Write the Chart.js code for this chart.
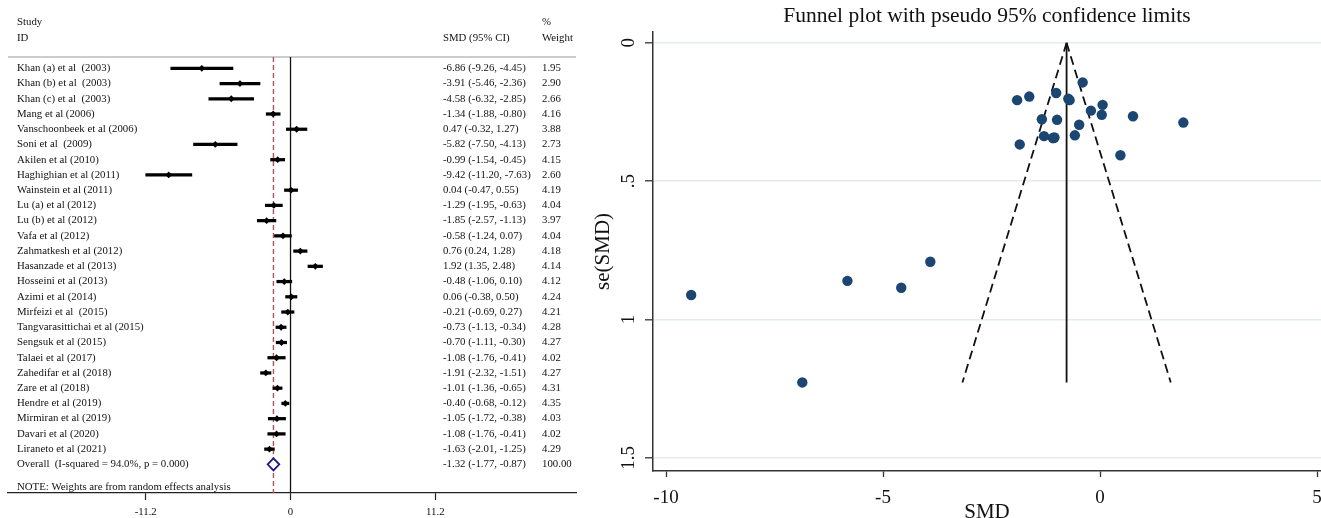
<!DOCTYPE html>
<html><head><meta charset="utf-8">
<script src="https://cdn.jsdelivr.net/npm/chart.js@4/dist/chart.umd.min.js"></script>
<style>
html,body{margin:0;padding:0;background:#fff;overflow:hidden;width:1321px;height:518px;position:relative;}
#forest{position:absolute;left:0;top:0;}
#funnel{position:absolute;left:580px;top:0;}
</style></head><body>
<canvas id="forest" width="580" height="518"></canvas>
<canvas id="funnel" width="761" height="524"></canvas>
<script>
// ---------- data ----------
const studies = [
  'Khan (a) et al  (2003)','Khan (b) et al  (2003)','Khan (c) et al  (2003)','Mang et al (2006)',
  'Vanschoonbeek et al (2006)','Soni et al  (2009)','Akilen et al (2010)','Haghighian et al (2011)',
  'Wainstein et al (2011)','Lu (a) et al (2012)','Lu (b) et al (2012)','Vafa et al (2012)',
  'Zahmatkesh et al (2012)','Hasanzade et al (2013)','Hosseini et al (2013)','Azimi et al (2014)',
  'Mirfeizi et al  (2015)','Tangvarasittichai et al (2015)','Sengsuk et al (2015)','Talaei et al (2017)',
  'Zahedifar et al (2018)','Zare et al (2018)','Hendre et al (2019)','Mirmiran et al (2019)',
  'Davari et al (2020)','Liraneto et al (2021)'
];
const smd = [-6.86,-3.91,-4.58,-1.34,0.47,-5.82,-0.99,-9.42,0.04,-1.29,-1.85,-0.58,0.76,1.92,-0.48,0.06,-0.21,-0.73,-0.70,-1.08,-1.91,-1.01,-0.40,-1.05,-1.08,-1.63];
const ciLower = [-9.26,-5.46,-6.32,-1.88,-0.32,-7.50,-1.54,-11.20,-0.47,-1.95,-2.57,-1.24,0.24,1.35,-1.06,-0.38,-0.69,-1.13,-1.11,-1.76,-2.32,-1.36,-0.68,-1.72,-1.76,-2.01];
const ciUpper = [-4.45,-2.36,-2.85,-0.80,1.27,-4.13,-0.45,-7.63,0.55,-0.63,-1.13,0.07,1.28,2.48,0.10,0.50,0.27,-0.34,-0.30,-0.41,-1.51,-0.65,-0.12,-0.38,-0.41,-1.25];
const weights = [1.95,2.90,2.66,4.16,3.88,2.73,4.15,2.60,4.19,4.04,3.97,4.04,4.18,4.14,4.12,4.24,4.21,4.28,4.27,4.02,4.27,4.31,4.35,4.03,4.02,4.29];
const seSMD = [1.227,0.791,0.885,0.276,0.406,0.860,0.278,0.911,0.260,0.337,0.367,0.334,0.265,0.288,0.296,0.224,0.245,0.202,0.207,0.344,0.207,0.181,0.143,0.342,0.344,0.194];

const overallLabel = 'Overall  (I-squared = 94.0%, p = 0.000)';
const overallEst = [-1.32, -1.77, -0.87];
const overallWeight = '100.00';
const noteText = 'NOTE: Weights are from random effects analysis';

const forestTickValues = [-11.2, 0, 11.2];
const forestTickLabels = ['-11.2', '0', '11.2'];

const funnelTitle = 'Funnel plot with pseudo 95% confidence limits';
const funnelXTickValues = [-10, -5, 0, 5];
const funnelXTickLabels = ['-10', '-5', '0', '5'];
const funnelYTickValues = [0, 0.5, 1, 1.5];
const funnelYTickLabels = ['0', '.5', '1', '1.5'];
const pooledFixed = -0.77;
const funnelSE = [0, 1.227];
const funnelLeftLimit = [-0.77, -3.17];
const funnelRightLimit = [-0.77, 1.63];

// ---------- setup ----------
const SERIF = "'Liberation Serif','Times New Roman',serif";
Chart.defaults.font.family = SERIF;
Chart.defaults.color = '#111';
Chart.defaults.animation = false;

const FS = 10.8;
const fmt = v => v.toFixed(2);

const forestDecor = {
  id: 'forestDecor',
  beforeDatasetsDraw(chart) {
    const {ctx, chartArea, scales: {x}} = chart;
    ctx.save();
    ctx.strokeStyle = '#9a9a9a'; ctx.lineWidth = 1.2;
    ctx.beginPath(); ctx.moveTo(chartArea.left, chartArea.top); ctx.lineTo(chartArea.right, chartArea.top); ctx.stroke();
    const x0 = x.getPixelForValue(0);
    ctx.strokeStyle = '#111'; ctx.lineWidth = 1.3;
    ctx.beginPath(); ctx.moveTo(x0, chartArea.top); ctx.lineTo(x0, chartArea.bottom); ctx.stroke();
    const xo = x.getPixelForValue(overallEst[0]);
    ctx.strokeStyle = '#b4505a'; ctx.lineWidth = 1.4; ctx.setLineDash([5, 3]);
    ctx.beginPath(); ctx.moveTo(xo, chartArea.top); ctx.lineTo(xo, chartArea.bottom); ctx.stroke();
    ctx.restore();
  },
  afterDatasetsDraw(chart) {
    const {ctx, scales: {x, y}} = chart;
    ctx.save();
    ctx.fillStyle = '#111';
    ctx.font = FS + 'px ' + SERIF;
    ctx.textBaseline = 'middle';
    ctx.textAlign = 'left';
    const colName = 17, colEst = 443, colW = 542;
    ctx.fillText('Study', colName, y.getPixelForValue(-3));
    ctx.fillText('ID', colName, y.getPixelForValue(-2));
    ctx.fillText('SMD (95% CI)', colEst, y.getPixelForValue(-2));
    ctx.fillText('%', colW, y.getPixelForValue(-3));
    ctx.fillText('Weight', colW, y.getPixelForValue(-2));
    studies.forEach((s, i) => {
      const py = y.getPixelForValue(i);
      ctx.fillText(s, colName, py);
      ctx.fillText(fmt(smd[i]) + ' (' + fmt(ciLower[i]) + ', ' + fmt(ciUpper[i]) + ')', colEst, py);
      ctx.fillText(fmt(weights[i]), colW, py);
    });
    const oy = y.getPixelForValue(studies.length);
    ctx.fillText(overallLabel, colName, oy);
    ctx.fillText(fmt(overallEst[0]) + ' (' + fmt(overallEst[1]) + ', ' + fmt(overallEst[2]) + ')', colEst, oy);
    ctx.fillText(overallWeight, colW, oy);
    ctx.fillText(noteText, colName, y.getPixelForValue(studies.length + 1.5));
    const xl = x.getPixelForValue(overallEst[1]), xm = x.getPixelForValue(overallEst[0]), xr = x.getPixelForValue(overallEst[2]);
    ctx.beginPath();
    ctx.moveTo(xl, oy); ctx.lineTo(xm, oy - 6); ctx.lineTo(xr, oy); ctx.lineTo(xm, oy + 6); ctx.closePath();
    ctx.fillStyle = '#fff'; ctx.fill();
    ctx.strokeStyle = '#1c1c80'; ctx.lineWidth = 1.8; ctx.stroke();
    ctx.restore();
  }
};

new Chart(document.getElementById('forest'), {
  type: 'bar',
  data: {
    datasets: [
      {
        type: 'scatter', indexAxis: 'x',
        data: smd.map((v, i) => ({x: v, y: i})),
        pointStyle: 'rectRot', pointRadius: 3.4, pointHoverRadius: 3.4,
        backgroundColor: '#000', borderColor: '#000', borderWidth: 0
      },
      {
        type: 'bar', indexAxis: 'y',
        data: smd.map((v, i) => ({x: [ciLower[i], ciUpper[i]], y: i})),
        backgroundColor: '#000', barThickness: 2.6, borderWidth: 0
      }
    ]
  },
  options: {
    indexAxis: 'y',
    responsive: false, animation: false,
    layout: {padding: {left: 8, right: 4, top: 57, bottom: 0}},
    plugins: {legend: {display: false}, tooltip: {enabled: false}},
    scales: {
      x: {
        type: 'linear', min: -21.85, max: 22.08, offset: false,
        afterBuildTicks: s => { s.ticks = forestTickValues.map(v => ({value: v})); },
        afterFit: s => { s.height = 25; },
        ticks: {callback: v => forestTickLabels[forestTickValues.indexOf(v)], font: {size: FS}, padding: 6, color: '#111', maxRotation: 0, autoSkip: false},
        grid: {drawOnChartArea: false, drawTicks: true, tickLength: 7, tickColor: '#222', tickWidth: 1.2, color: '#222', offset: false},
        border: {display: true, color: '#222', width: 1.3}
      },
      y: {type: 'linear', display: false, reverse: true, min: -0.742, max: 27.88, offset: false, grid: {offset: false}}
    }
  },
  plugins: [forestDecor]
});

new Chart(document.getElementById('funnel'), {
  type: 'scatter',
  data: {
    datasets: [
      {data: smd.map((v, i) => ({x: v, y: seSMD[i]})), pointRadius: 5.2, pointHoverRadius: 5.2, backgroundColor: '#1b4672', borderWidth: 0},
      {data: funnelSE.map(s => ({x: pooledFixed, y: s})), showLine: true, borderColor: '#111', borderWidth: 1.8, pointRadius: 0},
      {data: funnelSE.map((s, i) => ({x: funnelLeftLimit[i], y: s})), showLine: true, borderColor: '#111', borderWidth: 1.8, borderDash: [9, 5], pointRadius: 0},
      {data: funnelSE.map((s, i) => ({x: funnelRightLimit[i], y: s})), showLine: true, borderColor: '#111', borderWidth: 1.8, borderDash: [9, 5], pointRadius: 0}
    ]
  },
  options: {
    responsive: false, animation: false,
    layout: {padding: {left: 13, right: 20, top: 0, bottom: 0}},
    plugins: {
      legend: {display: false}, tooltip: {enabled: false},
      title: {display: true, text: funnelTitle, fullSize: false, color: '#111', font: {size: 21.5, weight: 'normal'}, padding: {top: 3, bottom: 3}}
    },
    scales: {
      x: {
        type: 'linear', min: -10.3, max: 5.092,
        afterBuildTicks: s => { s.ticks = funnelXTickValues.map(v => ({value: v})); },
        afterFit: s => { s.height = 53; },
        ticks: {callback: v => funnelXTickLabels[funnelXTickValues.indexOf(v)], font: {size: 19}, padding: 10, color: '#111', maxRotation: 0, autoSkip: false},
        grid: {drawOnChartArea: false, drawTicks: true, tickLength: 6, tickColor: '#333', tickWidth: 1.3},
        border: {display: true, color: '#333', width: 1.5},
        title: {display: true, text: 'SMD', color: '#111', font: {size: 21, lineHeight: 1}, padding: {top: 0, bottom: 1.5}}
      },
      y: {
        type: 'linear', reverse: true, min: -0.04, max: 1.547,
        afterBuildTicks: s => { s.ticks = funnelYTickValues.map(v => ({value: v})); },
        afterFit: s => { s.width = 60; },
        ticks: {callback: v => funnelYTickLabels[funnelYTickValues.indexOf(v)], font: {size: 19}, minRotation: 90, maxRotation: 90, crossAlign: 'center', padding: 4, color: '#111', autoSkip: false},
        grid: {color: '#e2ebef', lineWidth: 1.6, drawTicks: true, tickLength: 8, tickColor: '#333', tickWidth: 1.3},
        border: {display: true, color: '#333', width: 1.5},
        title: {display: true, text: 'se(SMD)', color: '#111', font: {size: 21, lineHeight: 1}, padding: {top: 0, bottom: 0}}
      }
    }
  }
});
</script>
</body></html>
